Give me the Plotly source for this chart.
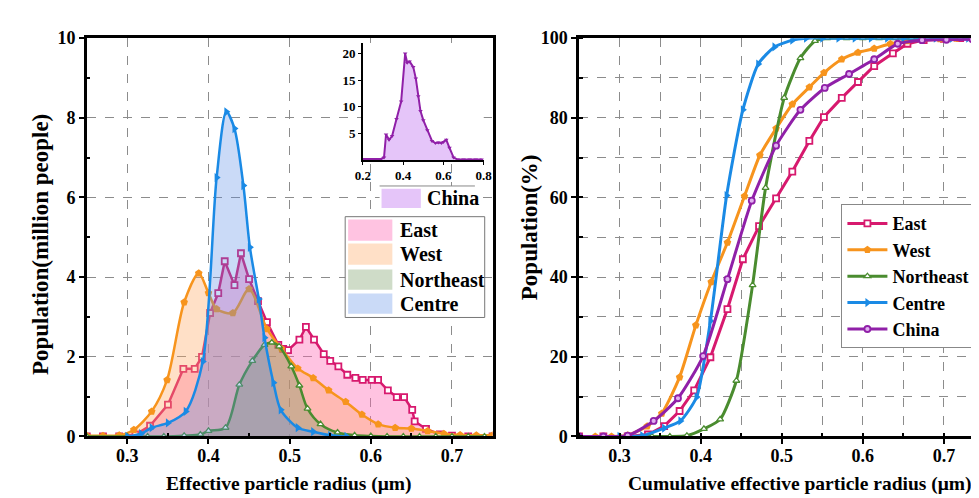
import plotly.graph_objects as go

# ---------------- data ----------------
east_x = [0.25, 0.27, 0.29, 0.31, 0.328, 0.35, 0.369, 0.383, 0.392, 0.402, 0.412, 0.42, 0.432, 0.44, 0.45,
          0.461, 0.472, 0.486, 0.492, 0.498, 0.512, 0.52, 0.53, 0.542, 0.55, 0.56, 0.571, 0.581, 0.59,
          0.601, 0.609, 0.621, 0.632, 0.641, 0.651, 0.654, 0.668, 0.685, 0.70, 0.72, 0.75]
east_y = [0, 0, 0, 0.05, 0.27, 0.8, 1.7, 1.7, 2.0, 3.1, 3.6, 4.4, 3.8, 4.6, 3.95,
          3.4, 2.87, 2.3, 2.2, 2.17, 2.43, 2.75, 2.43, 2.07, 1.9, 1.76, 1.55, 1.47, 1.42,
          1.42, 1.42, 1.16, 0.99, 0.99, 0.67, 0.38, 0.19, 0.05, 0.02, 0, 0]

west_x = [0.25, 0.27, 0.29, 0.308, 0.33, 0.349, 0.37, 0.388, 0.40, 0.41, 0.43, 0.45, 0.472, 0.49,
          0.51, 0.529, 0.548, 0.569, 0.589, 0.609, 0.63, 0.65, 0.67, 0.69, 0.71, 0.73, 0.75]
west_y = [0.02, 0.02, 0.03, 0.17, 0.63, 1.42, 3.37, 4.1, 3.6, 3.2, 3.1, 3.7, 2.7, 2.2,
          1.71, 1.47, 1.16, 0.87, 0.55, 0.31, 0.22, 0.2, 0.14, 0.07, 0.04, 0.03, 0.03]

ne_x = [0.25, 0.30, 0.325, 0.345, 0.37, 0.39, 0.40, 0.421, 0.438, 0.454, 0.469, 0.478, 0.487, 0.502,
        0.512, 0.522, 0.538, 0.559, 0.58, 0.60, 0.62, 0.64, 0.66, 0.68, 0.70, 0.72, 0.74]
ne_y = [0, 0, 0, 0, 0.02, 0.05, 0.14, 0.22, 1.3, 1.9, 2.3, 2.36, 2.26, 1.76,
        1.28, 0.7, 0.31, 0.1, 0.03, 0.01, 0, 0, 0, 0, 0, 0, 0]

centre_x = [0.30, 0.317, 0.33, 0.35, 0.372, 0.393, 0.41, 0.422, 0.432, 0.443, 0.451, 0.462, 0.469,
            0.48, 0.489, 0.51, 0.529, 0.55, 0.57]
centre_y = [0, 0.07, 0.22, 0.34, 0.63, 1.88, 6.5, 8.15, 7.73, 6.3, 4.75, 3.45, 2.48,
            1.35, 0.67, 0.22, 0.12, 0.03, 0]

china_x = [0.20, 0.23, 0.26, 0.29, 0.305, 0.315, 0.33, 0.345, 0.367, 0.39, 0.41, 0.42, 0.432, 0.45,
           0.463, 0.475, 0.486, 0.50, 0.52, 0.543, 0.56, 0.575, 0.59, 0.60, 0.614, 0.63, 0.65, 0.67,
           0.70, 0.73, 0.76, 0.79]
china_y = [0.2, 0.2, 0.2, 0.2, 0.5, 4.8, 3.8, 4.5, 7.7, 11, 20, 18.3, 18.5, 17.5,
           15.3, 12, 9.2, 7.5, 5.6, 3.6, 3.2, 3.3, 3.2, 3.4, 3.8, 2.3, 0.5, 0.1,
           0.1, 0.1, 0.1, 0.1]

# cumulative (%)
cum_east_x = [0.25, 0.28, 0.31, 0.335, 0.355, 0.374, 0.392, 0.412, 0.433, 0.452, 0.472, 0.493, 0.513,
              0.534, 0.552, 0.574, 0.594, 0.614, 0.637, 0.655, 0.675, 0.70, 0.72, 0.74]
cum_east_y = [0, 0, 0, 0.5, 2.6, 6.4, 11.6, 19.9, 32, 44.5, 52.8, 59.8, 66.5,
              74.2, 80.2, 85, 89, 93, 96.2, 98.6, 99.5, 99.8, 100, 100]

cum_west_x = [0.25, 0.27, 0.29, 0.31, 0.334, 0.352, 0.374, 0.394, 0.413, 0.433, 0.454, 0.473, 0.493,
              0.513, 0.534, 0.552, 0.574, 0.594, 0.614, 0.634, 0.655, 0.675, 0.695, 0.715, 0.735]
cum_west_y = [0, 0, 0, 0.3, 2.6, 5.8, 14.9, 27.9, 38.8, 48.7, 60.3, 70.6, 77.3,
              83.4, 87.7, 91.3, 94.7, 96.4, 97.4, 98.6, 99.3, 99.7, 99.8, 99.9, 100]

cum_ne_x = [0.25, 0.30, 0.34, 0.362, 0.383, 0.404, 0.424, 0.444, 0.464, 0.48, 0.503, 0.523, 0.541,
            0.556, 0.58, 0.60, 0.62, 0.64, 0.66, 0.68, 0.70, 0.72, 0.74]
cum_ne_y = [0, 0, 0, 0, 0.2, 1.9, 4.3, 14, 38, 62.4, 85, 95, 99.3,
            100, 100, 100, 100, 100, 100, 100, 100, 100, 100]

cum_centre_x = [0.25, 0.30, 0.328, 0.355, 0.375, 0.395, 0.412, 0.432, 0.452, 0.471, 0.491, 0.513,
                0.53, 0.55, 0.57, 0.59, 0.61, 0.63, 0.65, 0.67, 0.69, 0.71, 0.73]
cum_centre_y = [0, 0, 0.2, 2.1, 3.9, 9.9, 29, 60.5, 82, 93.5, 97.8, 99.5,
                100, 100, 100, 100, 100, 100, 100, 100, 100, 100, 100]

cum_china_x = [0.25, 0.28, 0.31, 0.342, 0.372, 0.403, 0.433, 0.463, 0.493, 0.523, 0.553, 0.583,
               0.614, 0.643, 0.673, 0.703, 0.735]
cum_china_y = [0, 0, 0.2, 3.9, 9.6, 20.2, 39.5, 59.2, 73, 82, 87.5, 91,
               94.7, 98.6, 99.5, 99.6, 99.7]

names = ["East", "West", "Northeast", "Centre", "China"]
x_titles = ["Effective particle radius (μm)", "Cumulative effective particle radius (μm)"]
y_titles = ["Population(million people)", "Population(%)"]

# ---------------- styles ----------------
C_EAST, C_WEST, C_NE, C_CEN, C_CHN = "#D7196E", "#F7941D", "#4A8C2F", "#1A8AE5", "#9020A8"
F_EAST = "rgba(255,105,180,0.40)"
F_WEST = "rgba(255,165,95,0.35)"
F_NE = "rgba(105,145,85,0.32)"
F_CEN = "rgba(90,140,230,0.32)"
F_CHN = "rgba(190,110,240,0.40)"
FONT = "Liberation Serif"

W, H = 979, 498
def px(x):
    return x / W
def py(y):
    return (H - y) / H

fig = go.Figure()

# ---- left panel: distributions ----
left = [
    (east_x, east_y, C_EAST, F_EAST, dict(symbol="square", color="white", size=6, line=dict(color=C_EAST, width=1.8)), "linear"),
    (west_x, west_y, C_WEST, F_WEST, dict(symbol="pentagon", color=C_WEST, size=8), "spline"),
    (ne_x, ne_y, C_NE, F_NE, dict(symbol="triangle-up", color="white", size=6, line=dict(color=C_NE, width=1.3)), "spline"),
    (centre_x, centre_y, C_CEN, F_CEN, dict(symbol="triangle-right", color=C_CEN, size=8), "spline"),
]
for (xs, ys, c, f, mk, shp), nm in zip(left, names):
    fig.add_trace(go.Scatter(x=xs, y=ys, mode="lines+markers", fill="tozeroy", fillcolor=f,
                             line=dict(color=c, width=2.5, shape=shp, smoothing=0.8), marker=mk,
                             showlegend=False, xaxis="x", yaxis="y", name=nm))

# ---- inset: China ----
fig.add_trace(go.Scatter(x=china_x, y=china_y, mode="lines+markers", fill="tozeroy", fillcolor=F_CHN,
                         line=dict(color=C_CHN, width=2), marker=dict(symbol="triangle-down", size=4, color=C_CHN),
                         showlegend=False, xaxis="x3", yaxis="y3", name="China"))

# ---- right panel: cumulative ----
right = [
    (cum_east_x, cum_east_y, C_EAST, dict(symbol="square", color="white", size=6, line=dict(color=C_EAST, width=1.8)), "linear"),
    (cum_west_x, cum_west_y, C_WEST, dict(symbol="pentagon", color=C_WEST, size=8), "spline"),
    (cum_ne_x, cum_ne_y, C_NE, dict(symbol="triangle-up", color="white", size=6, line=dict(color=C_NE, width=1.3)), "spline"),
    (cum_centre_x, cum_centre_y, C_CEN, dict(symbol="triangle-right", color=C_CEN, size=8), "spline"),
    (cum_china_x, cum_china_y, C_CHN, dict(symbol="circle", color="#E0B0F0", size=6, line=dict(color=C_CHN, width=1.8)), "spline"),
]
for (xs, ys, c, mk, shp), nm in zip(right, names):
    fig.add_trace(go.Scatter(x=xs, y=ys, mode="lines+markers", line=dict(color=c, width=3, shape=shp, smoothing=0.6),
                             marker=mk, name=nm, legend="legend2", xaxis="x2", yaxis="y2"))

tickfont = dict(family=FONT, size=18, color="black", weight="bold")
titlefont_x = dict(family=FONT, size=19.5, color="black", weight="bold")
titlefont_y = dict(family=FONT, size=23, color="black", weight="bold")
grid = dict(showgrid=True, gridcolor="#8c8c8c", gridwidth=1, griddash="dash", zeroline=False,
            showline=True, linecolor="black", linewidth=2.5, ticks="outside", ticklen=5, tickwidth=1.5,
            tickcolor="black", tickfont=tickfont)
legfont = dict(family=FONT, size=20, color="black", weight="bold")

# ---- hand-drawn fill legends (left panel and inset) ----
shapes = []
annotations = []
shapes.append(dict(type="rect", xref="paper", yref="paper", x0=px(335), x1=px(477), y0=py(312), y1=py(207),
                   fillcolor="white", line=dict(color="#777", width=1)))
leg_rows = [(210, 232), (235, 257), (262, 283), (287, 308)]
for (top, bot), nm, f in zip(leg_rows, names[:4], [F_EAST, F_WEST, F_NE, F_CEN]):
    shapes.append(dict(type="rect", xref="paper", yref="paper", x0=px(338), x1=px(383), y0=py(bot), y1=py(top),
                       fillcolor=f, line=dict(width=0)))
    annotations.append(dict(text=nm, xref="paper", yref="paper", x=px(389), y=py((top + bot) / 2),
                            xanchor="left", yanchor="middle", showarrow=False, font=legfont))
# China legend of the inset
shapes.append(dict(type="rect", xref="paper", yref="paper", x0=px(370), x1=px(467), y0=py(200), y1=py(175),
                   fillcolor="white", line=dict(width=0)))
shapes.append(dict(type="line", xref="paper", yref="paper", x0=px(370), x1=px(467), y0=py(175), y1=py(175),
                   line=dict(color="#888", width=1)))
shapes.append(dict(type="rect", xref="paper", yref="paper", x0=px(372), x1=px(412), y0=py(198), y1=py(178),
                   fillcolor=F_CHN, line=dict(width=0)))
annotations.append(dict(text="China", xref="paper", yref="paper", x=px(416), y=py(188),
                        xanchor="left", yanchor="middle", showarrow=False, font=legfont))

# ---- axis titles ----
annotations.append(dict(text=x_titles[0], xref="paper", yref="paper", x=px(278), y=py(485),
                        xanchor="center", yanchor="middle", showarrow=False, font=titlefont_x))
annotations.append(dict(text=x_titles[1], xref="paper", yref="paper", x=px(975), y=py(485),
                        xanchor="right", yanchor="middle", showarrow=False, font=titlefont_x))
annotations.append(dict(text=y_titles[0], xref="paper", yref="paper", x=px(25), y=py(236), textangle=-90,
                        xanchor="center", yanchor="middle", showarrow=False, font=titlefont_y))
annotations.append(dict(text=y_titles[1], xref="paper", yref="paper", x=px(522), y=py(218), textangle=-90,
                        xanchor="center", yanchor="middle", showarrow=False, font=titlefont_y))

fig.update_layout(
    width=W, height=H, margin=dict(l=0, r=0, t=0, b=0),
    paper_bgcolor="white", plot_bgcolor="white",
    font=dict(family=FONT, color="black"),
    xaxis=dict(domain=[px(72), px(485)], range=[0.25, 0.75], tickvals=[0.3, 0.4, 0.5, 0.6, 0.7],
               mirror=True, anchor="y", ticklabelstandoff=-4,
               minor=dict(tickvals=[0.35, 0.45, 0.55, 0.65], ticks="inside", ticklen=4, tickcolor="black", showgrid=False),
               **grid),
    yaxis=dict(domain=[py(436), py(21)], range=[0, 10], tickvals=[0, 2, 4, 6, 8, 10], mirror=True, anchor="x",
               minor=dict(tickvals=[1, 3, 5, 7, 9], ticks="inside", ticklen=4, tickcolor="black", showgrid=False),
               **grid),
    xaxis2=dict(domain=[px(573), 1.0], range=[0.25, 0.742], tickvals=[0.3, 0.4, 0.5, 0.6, 0.7],
                mirror=True, anchor="y2", ticklabelstandoff=-4,
                minor=dict(dtick=0.05, tick0=0.25, ticks="inside", ticklen=4, tickcolor="black",
                           showgrid=True, gridcolor="#8c8c8c", griddash="dash", gridwidth=1),
                **grid),
    yaxis2=dict(domain=[py(436), py(21)], range=[0, 100], tickvals=[0, 20, 40, 60, 80, 100], mirror=False, anchor="x2",
                minor=dict(dtick=10, tick0=0, ticks="inside", ticklen=4, tickcolor="black",
                           showgrid=True, gridcolor="#8c8c8c", griddash="dash", gridwidth=1),
                **grid),
    xaxis3=dict(domain=[px(353), px(476)], range=[0.2, 0.8], tickvals=[0.2, 0.4, 0.6, 0.8], anchor="y3",
                showline=True, linecolor="black", linewidth=1.5, ticks="outside", ticklen=3, tickcolor="black",
                showgrid=False, zeroline=False, tickfont=dict(family=FONT, size=13, color="black", weight="bold")),
    yaxis3=dict(domain=[py(148), py(26)], range=[0, 22], tickvals=[5, 10, 15, 20], anchor="x3",
                showline=True, linecolor="black", linewidth=1.5, ticks="outside", ticklen=3, tickcolor="black",
                showgrid=False, zeroline=False, tickfont=dict(family=FONT, size=13, color="black", weight="bold")),
    legend2=dict(x=px(840), y=py(194), xanchor="left", yanchor="top", bgcolor="white", bordercolor="#888",
                 borderwidth=1, font=dict(family=FONT, size=18, color="black", weight="bold"),
                 itemwidth=40, tracegroupgap=0),
    shapes=shapes,
    annotations=annotations,
)

fig.write_html("out.html")
